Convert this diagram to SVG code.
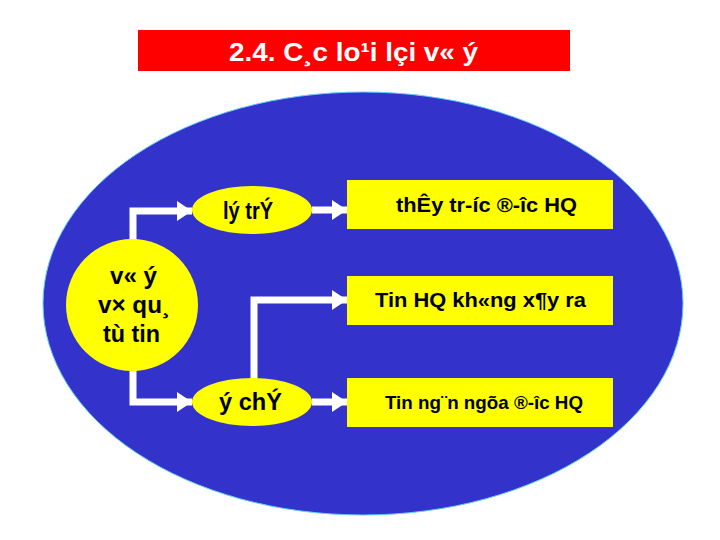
<svg xmlns="http://www.w3.org/2000/svg" width="720" height="540" viewBox="0 0 720 540">
<style>
.t{font-family:"Liberation Sans",Arial,sans-serif;font-weight:bold;fill:#000;text-anchor:middle}
.node{fill:#FFFF00}
.conn{fill:none;stroke:#fff;stroke-width:7}
</style>
<defs>
<marker id="ah" markerUnits="userSpaceOnUse" markerWidth="16" markerHeight="20" refX="15" refY="10" orient="auto">
<path d="M0,0 L15,10 L0,20 z" fill="#fff"/>
</marker>
</defs>
<rect width="720" height="540" fill="#fff"/>
<g id="title">
<rect x="138" y="30" width="432" height="41" fill="#FF0000"/>
<text x="353.5" y="61" class="t" style="fill:#fff;font-size:26px" textLength="249" lengthAdjust="spacingAndGlyphs">2.4. C¸c lo¹i lçi v« ý</text>
</g>
<ellipse cx="363" cy="303.5" rx="320" ry="211.5" fill="#3333CC" stroke="#66CCFF" stroke-width="1"/>
<g id="connectors">
<path class="conn" d="M133,240 V211 H192" marker-end="url(#ah)"/>
<path class="conn" d="M133,370 V402 H192" marker-end="url(#ah)"/>
<path class="conn" d="M312,210 H347" marker-end="url(#ah)"/>
<path class="conn" d="M312,402 H347" marker-end="url(#ah)"/>
<path class="conn" d="M254,379 V300 H347" marker-end="url(#ah)"/>
</g>
<g id="n-source">
<circle class="node" cx="132" cy="305" r="66"/>
<text x="133.5" y="284" class="t" style="font-size:23px" textLength="47" lengthAdjust="spacingAndGlyphs">v« ý</text>
<text x="134" y="313" class="t" style="font-size:23px" textLength="72" lengthAdjust="spacingAndGlyphs">v× qu¸</text>
<text x="131.5" y="342" class="t" style="font-size:23px" textLength="57" lengthAdjust="spacingAndGlyphs">tù tin</text>
</g>
<g id="n-lytri">
<ellipse class="node" cx="252" cy="210" rx="60" ry="24"/>
<text x="248" y="219" class="t" style="font-size:23px" textLength="50" lengthAdjust="spacingAndGlyphs">lý trÝ</text>
</g>
<g id="n-ychi">
<ellipse class="node" cx="252" cy="402" rx="60" ry="24"/>
<text x="250.5" y="410" class="t" style="font-size:23px" textLength="63" lengthAdjust="spacingAndGlyphs">ý chÝ</text>
</g>
<g id="n-box1">
<rect class="node" x="347" y="180" width="266" height="49"/>
<text x="486.5" y="212" class="t" style="font-size:20px" textLength="181" lengthAdjust="spacingAndGlyphs">thÊy tr-íc ®-îc HQ</text>
</g>
<g id="n-box2">
<rect class="node" x="347" y="276" width="266" height="49"/>
<text x="480.5" y="307" class="t" style="font-size:20px" textLength="211" lengthAdjust="spacingAndGlyphs">Tin HQ kh«ng x¶y ra</text>
</g>
<g id="n-box3">
<rect class="node" x="347" y="378" width="266" height="49"/>
<text x="484" y="409" class="t" style="font-size:19px" textLength="198" lengthAdjust="spacingAndGlyphs">Tin ng¨n ngõa ®-îc HQ</text>
</g>
</svg>
